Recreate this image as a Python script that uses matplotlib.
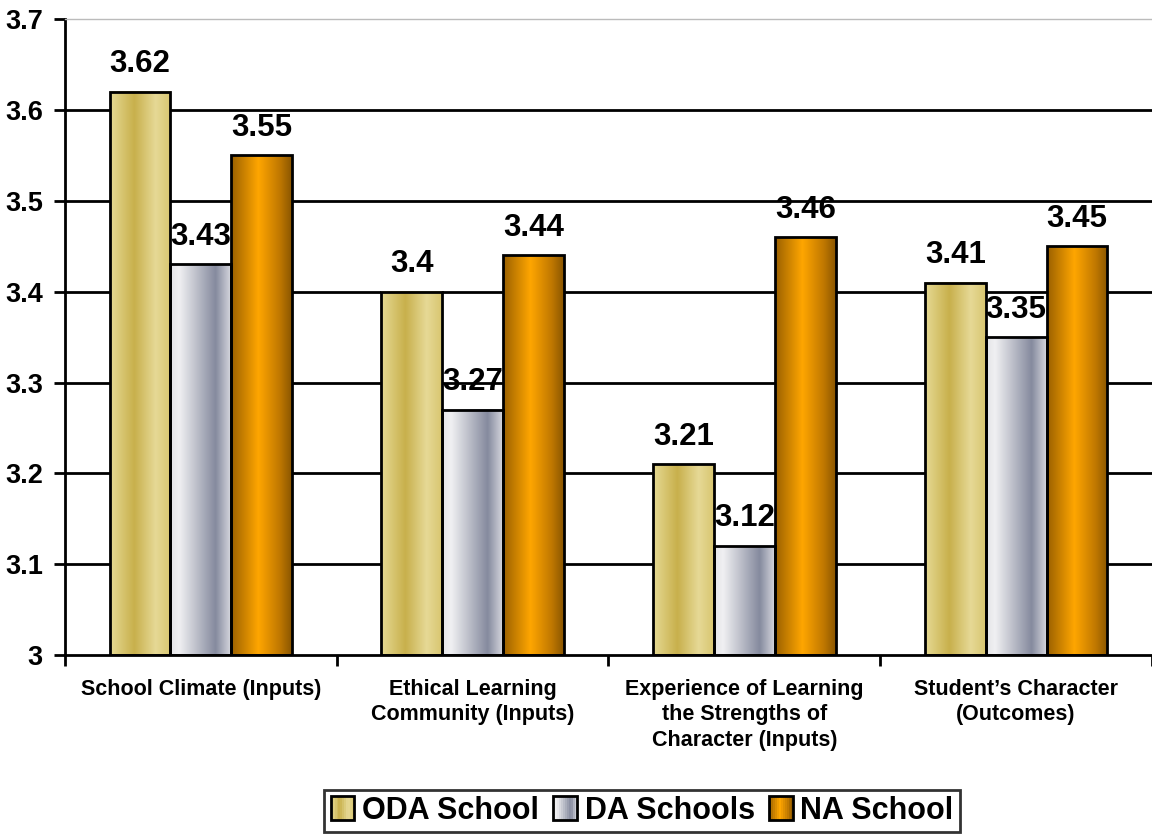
import numpy as np
import matplotlib.pyplot as plt
from matplotlib.colors import LinearSegmentedColormap
from matplotlib.patches import Rectangle
from matplotlib.legend_handler import HandlerBase

plt.rcParams['font.family'] = ['Liberation Sans', 'DejaVu Sans']
plt.rcParams['font.weight'] = 'bold'

categories = ['School Climate (Inputs)',
              'Ethical Learning\nCommunity (Inputs)',
              'Experience of Learning\nthe Strengths of\nCharacter (Inputs)',
              "Student\u2019s Character\n(Outcomes)"]
series = ['ODA School', 'DA Schools', 'NA School']
oda = [3.62, 3.40, 3.21, 3.41]
da = [3.43, 3.27, 3.12, 3.35]
na = [3.55, 3.44, 3.46, 3.45]
labels = [['3.62', '3.4', '3.21', '3.41'],
          ['3.43', '3.27', '3.12', '3.35'],
          ['3.55', '3.44', '3.46', '3.45']]
yticks = [3.0, 3.1, 3.2, 3.3, 3.4, 3.5, 3.6, 3.7]
ylabels = ['3', '3.1', '3.2', '3.3', '3.4', '3.5', '3.6', '3.7']

# gradient stops (position, colour) for each series
grads = [
    [(0.0, '#E6DA94'), (0.4, '#C8B04C'), (0.75, '#E6D996'), (1.0, '#D8C670')],
    [(0.0, '#E4E4E8'), (0.15, '#F0F0F2'), (0.75, '#858A9E'), (1.0, '#D6D7DE')],
    [(0.0, '#9A6000'), (0.45, '#FFA600'), (0.8, '#C07800'), (1.0, '#8A5600')],
]
cmaps = [LinearSegmentedColormap.from_list('g%d' % i, g) for i, g in enumerate(grads)]

fig = plt.figure(figsize=(11.52, 8.35), dpi=100)
ax = fig.add_axes([0.0564, 0.2156, 0.9436, 0.7614])

n = len(categories)
w = 0.224
x = np.arange(n) + 0.5
ramp = np.linspace(0, 1, 256).reshape(1, -1)
lw = 2.0

for i, vals in enumerate([oda, da, na]):
    for j, v in enumerate(vals):
        x0 = x[j] + (i - 1.5) * w
        ax.imshow(ramp, cmap=cmaps[i], extent=[x0, x0 + w, 3.0, v],
                  aspect='auto', zorder=2, interpolation='bilinear')
        ax.add_patch(Rectangle((x0, 3.0), w, v - 3.0, fill=False,
                               edgecolor='black', lw=lw, zorder=3))
        ax.annotate(labels[i][j], (x0 + w / 2, v), xytext=(0, 9),
                    textcoords='offset points', ha='center', va='bottom',
                    fontsize=22.5, fontweight='bold')

for t in yticks[1:-1]:
    ax.axhline(t, color='black', lw=lw, zorder=1)

ax.set_xlim(0, n)
ax.set_ylim(3.0, 3.7)
ax.set_yticks(yticks)
ax.set_yticklabels(ylabels, fontsize=19.5, fontweight='bold')
ax.set_xticks(np.arange(n + 1))
ax.set_xticklabels([])
ax.set_xticks(x, minor=True)
ax.set_xticklabels(categories, minor=True, fontsize=15.5, fontweight='bold', linespacing=1.3)
ax.tick_params(axis='x', which='minor', length=0, pad=17)
ax.tick_params(axis='both', which='major', length=8, width=lw, direction='out')
ax.tick_params(axis='y', pad=8)

ax.spines['left'].set_linewidth(lw)
ax.spines['bottom'].set_linewidth(lw)
ax.spines['right'].set_visible(False)
ax.spines['top'].set_color('#BBBBBB')
ax.spines['top'].set_linewidth(1)


class GradHandler(HandlerBase):
    def __init__(self, cmap):
        super().__init__()
        self.cmap = cmap

    def create_artists(self, legend, orig, xd, yd, width, height, fontsize, trans):
        side = height * 1.1
        x0 = xd + width - side
        y0 = yd + (height - side) / 2
        arts = []
        k = 12
        for s in range(k):
            arts.append(Rectangle((x0 + s * side / k, y0), side / k + 0.3, side,
                                  facecolor=self.cmap((s + 0.5) / k), edgecolor='none',
                                  transform=trans))
        arts.append(Rectangle((x0, y0), side, side, fill=False, edgecolor='black',
                              lw=lw, transform=trans))
        return arts


handles = [Rectangle((0, 0), 1, 1) for _ in series]
leg = fig.legend(handles, series, loc='lower center', bbox_to_anchor=(0.557, 0.0),
                 ncol=3, frameon=True, fancybox=False, edgecolor='black',
                 prop={'size': 22, 'weight': 'bold'}, handlelength=0.8,
                 handletextpad=0.25, columnspacing=0.45, borderpad=0.2,
                 borderaxespad=0.1,
                 handler_map={h: GradHandler(c) for h, c in zip(handles, cmaps)})
leg.get_frame().set_linewidth(lw)

fig.savefig('out.png', dpi=100)
